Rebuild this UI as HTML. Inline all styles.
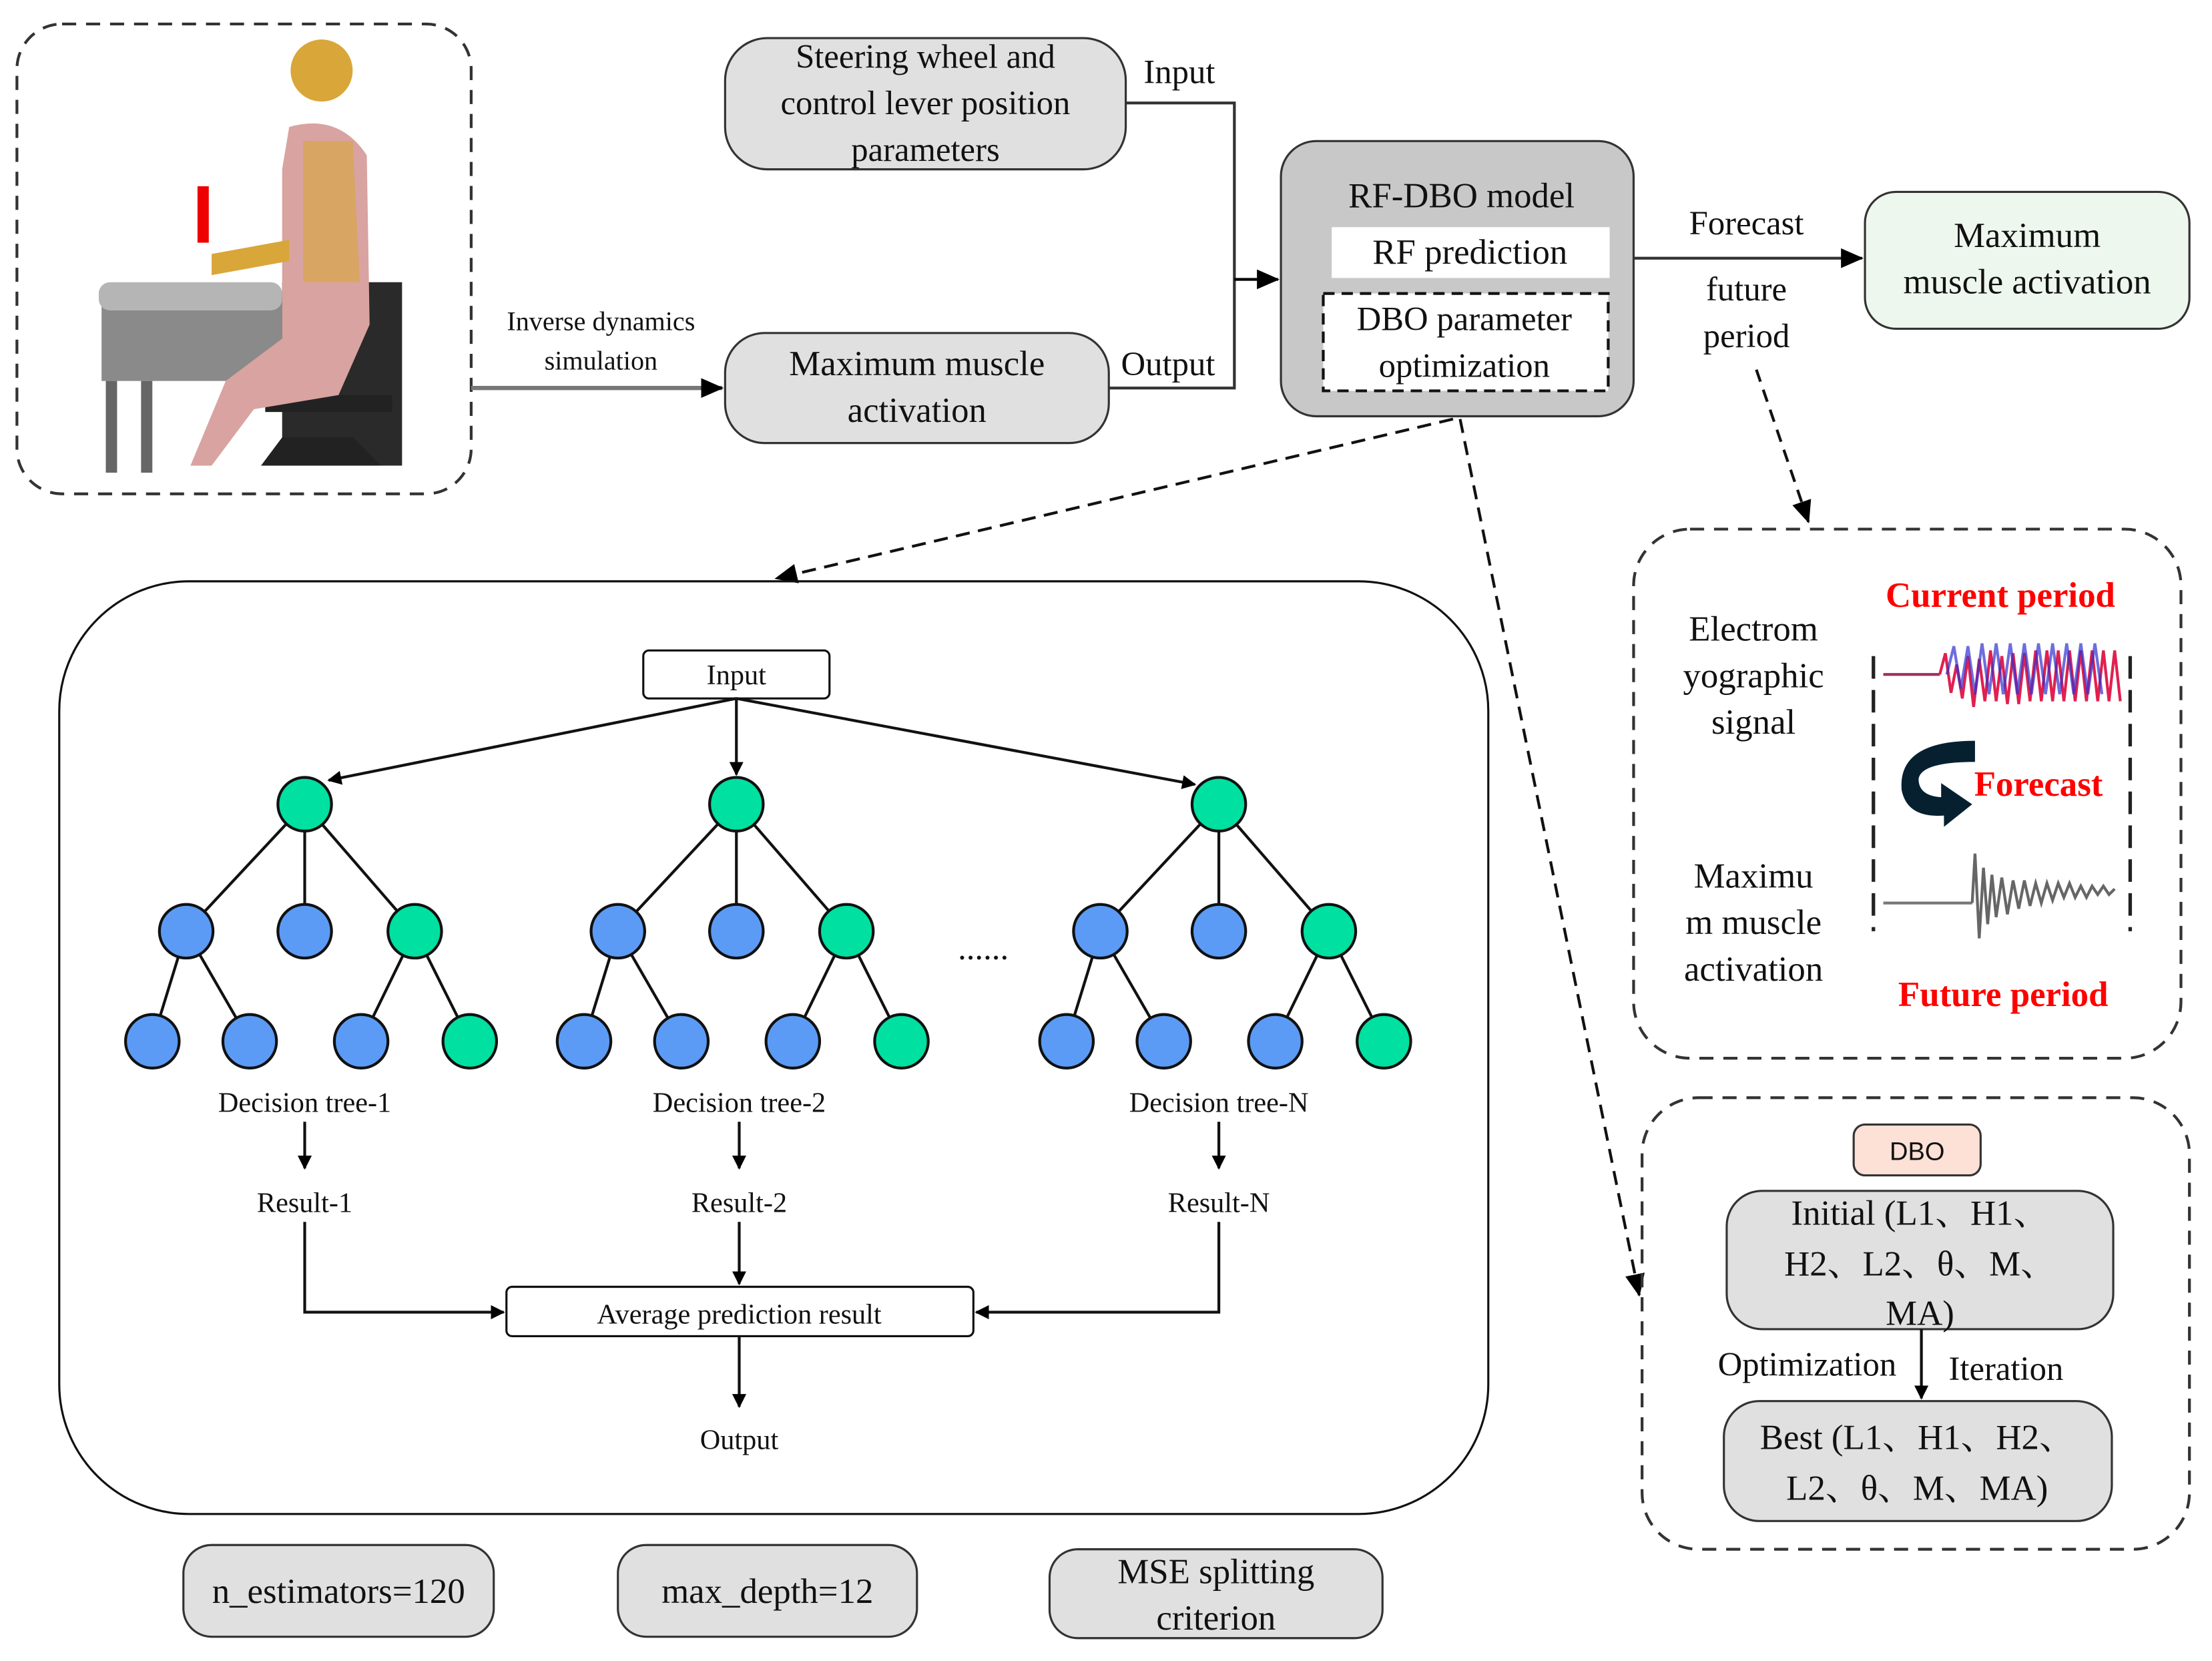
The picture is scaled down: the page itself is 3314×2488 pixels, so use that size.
<!DOCTYPE html>
<html><head><meta charset="utf-8"><style>html,body{margin:0;padding:0;background:#fff}svg{display:block}text{font-family:"Liberation Serif",serif;fill:#111}</style></head>
<body>
<svg width="3314" height="2488" viewBox="0 0 1568 1177.2" preserveAspectRatio="none" xmlns="http://www.w3.org/2000/svg">
<defs>
<marker id="a" markerWidth="10" markerHeight="10" refX="9" refY="5" orient="auto" markerUnits="userSpaceOnUse"><path d="M0,0 L10,5 L0,10 z" fill="#000"/></marker>
<marker id="b" markerWidth="16" markerHeight="14" refX="15" refY="7" orient="auto" markerUnits="userSpaceOnUse"><path d="M0,0 L16,7 L0,14 z" fill="#000"/></marker>
</defs>
<!-- left figure box -->
<rect x="12" y="17" width="322" height="333" rx="32" fill="none" stroke="#333" stroke-width="2" stroke-dasharray="10,7"/>
<g>
<rect x="72" y="210" width="140" height="60" fill="#8a8a8a"/>
<rect x="70" y="200" width="130" height="20" rx="8" fill="#b5b5b5"/>
<rect x="75" y="270" width="8" height="65" fill="#666"/><rect x="100" y="270" width="8" height="65" fill="#666"/>
<rect x="200" y="200" width="85" height="130" fill="#2a2a2a"/>
<rect x="188" y="280" width="90" height="12" fill="#222"/>
<path d="M185,330 L270,330 L250,310 L200,310z" fill="#222"/>
<circle cx="228" cy="50" r="22" fill="#d9a63a"/>
<path d="M205,90 Q240,80 260,110 L262,230 L240,280 L180,290 L150,330 L135,330 L160,270 L200,240 L200,120z" fill="#d8a3a0"/>
<path d="M150,180 L205,170 L205,185 L150,195z" fill="#d9a63a"/>
<rect x="140" y="132" width="8" height="40" fill="#e00"/>
<path d="M215,100 L250,100 L255,200 L215,200z" fill="#d9a63a" opacity="0.6"/>
</g>
<line x1="334" y1="275" x2="512" y2="275" stroke="#777" stroke-width="3" marker-end="url(#b)"/>
<text x="426" y="234" font-size="19" text-anchor="middle">Inverse dynamics</text>
<text x="426" y="262" font-size="19" text-anchor="middle">simulation</text>
<!-- top boxes -->
<rect x="514" y="27" width="284" height="93" rx="30" fill="#e0e0e0" stroke="#333" stroke-width="1.5"/>
<text x="656" y="48" font-size="24" text-anchor="middle">Steering wheel and</text>
<text x="656" y="81" font-size="24" text-anchor="middle">control lever position</text>
<text x="656" y="114" font-size="24" text-anchor="middle">parameters</text>
<rect x="514" y="236" width="272" height="78" rx="28" fill="#e0e0e0" stroke="#333" stroke-width="1.5"/>
<text x="650" y="266" font-size="25" text-anchor="middle">Maximum muscle</text>
<text x="650" y="299" font-size="25" text-anchor="middle">activation</text>
<polyline points="798,73 875,73 875,275 786,275" fill="none" stroke="#333" stroke-width="2"/>
<line x1="875" y1="198" x2="906" y2="198" stroke="#000" stroke-width="2" marker-end="url(#b)"/>
<text x="836" y="59" font-size="24" text-anchor="middle">Input</text>
<text x="828" y="266" font-size="24" text-anchor="middle">Output</text>
<!-- RF-DBO -->
<rect x="908" y="100" width="250" height="195" rx="25" fill="#c8c8c8" stroke="#333" stroke-width="1.5"/>
<text x="1036" y="147" font-size="25" text-anchor="middle">RF-DBO model</text>
<rect x="944" y="161" width="197" height="36" fill="#fff"/>
<text x="1042" y="187" font-size="25" text-anchor="middle">RF prediction</text>
<rect x="938" y="208" width="202" height="69" fill="#fff" stroke="#111" stroke-width="2" stroke-dasharray="8,5"/>
<text x="1038" y="234" font-size="24" text-anchor="middle">DBO parameter</text>
<text x="1038" y="267" font-size="24" text-anchor="middle">optimization</text>
<line x1="1158" y1="183" x2="1320" y2="183" stroke="#333" stroke-width="2" marker-end="url(#b)"/>
<text x="1238" y="166" font-size="24" text-anchor="middle">Forecast</text>
<text x="1238" y="213" font-size="24" text-anchor="middle">future</text>
<text x="1238" y="246" font-size="24" text-anchor="middle">period</text>
<rect x="1322" y="136" width="230" height="97" rx="22" fill="#eef7ee" stroke="#333" stroke-width="1.5"/>
<text x="1437" y="175" font-size="25" text-anchor="middle">Maximum</text>
<text x="1437" y="208" font-size="25" text-anchor="middle">muscle activation</text>
<line x1="1245" y1="262" x2="1282" y2="370" stroke="#111" stroke-width="2" stroke-dasharray="9,6" marker-end="url(#b)"/>
<!-- forecast dashed box -->
<rect x="1158" y="375" width="388" height="375" rx="40" fill="none" stroke="#333" stroke-width="2" stroke-dasharray="10,7"/>
<text x="1243" y="454" font-size="25" text-anchor="middle">Electrom</text>
<text x="1243" y="487" font-size="25" text-anchor="middle">yographic</text>
<text x="1243" y="520" font-size="25" text-anchor="middle">signal</text>
<text x="1243" y="629" font-size="25" text-anchor="middle">Maximu</text>
<text x="1243" y="662" font-size="25" text-anchor="middle">m muscle</text>
<text x="1243" y="695" font-size="25" text-anchor="middle">activation</text>
<text x="1418" y="430" font-size="25" font-weight="bold" text-anchor="middle" style="fill:#f00">Current period</text>
<text x="1445" y="564" font-size="25" font-weight="bold" text-anchor="middle" style="fill:#f00">Forecast</text>
<text x="1420" y="713" font-size="25" font-weight="bold" text-anchor="middle" style="fill:#f00">Future period</text>
<line x1="1328" y1="465" x2="1328" y2="660" stroke="#222" stroke-width="2.5" stroke-dasharray="16,8"/>
<line x1="1510" y1="465" x2="1510" y2="660" stroke="#222" stroke-width="2.5" stroke-dasharray="16,8"/>
<g stroke-width="2">
<line x1="1335" y1="478" x2="1375" y2="478" stroke="#a03060"/>
<path d="M1375,478 l4,-15 l4,28 l4,-20 l4,24 l4,-30 l4,36 l4,-34 l4,30 l4,-36 l4,36 l4,-32 l4,34 l4,-36 l4,36 l4,-36 l4,34 l4,-36 l4,36 l4,-36 l4,36 l4,-36 l4,36 l4,-36 l4,36 l4,-36 l4,36 l4,-36 l4,36 l4,-36 l4,36 l4,-36 l4,36" fill="none" stroke="#e02050"/>
<path d="M1380,478 l5,-20 l5,30 l5,-30 l5,34 l5,-36 l5,36 l5,-36 l5,36 l5,-36 l5,36 l5,-36 l5,36 l5,-36 l5,36 l5,-36 l5,36 l5,-36 l5,36 l5,-36 l5,36 l5,-36 l5,36" fill="none" stroke="#3030d0" opacity="0.7"/>
<line x1="1335" y1="640" x2="1398" y2="640" stroke="#777"/>
<path d="M1398,640 l2,-35 l3,60 l3,-50 l3,40 l3,-35 l3,30 l4,-28 l4,26 l4,-24 l4,20 l4,-20 l4,18 l4,-16 l4,14 l4,-14 l4,12 l4,-12 l4,10 l4,-10 l4,10 l4,-8 l4,8 l4,-8 l4,6 l4,-6 l4,6 l4,-4" fill="none" stroke="#666"/>
</g>
<path d="M1400,525 Q1345,525 1348,560 Q1352,580 1378,578 L1378,586 L1398,570 L1376,555 L1376,565 Q1360,564 1360,552 Q1362,540 1400,540z" fill="#062030"/>
<!-- dashed connectors -->
<line x1="1030" y1="297" x2="550" y2="410" stroke="#111" stroke-width="2" stroke-dasharray="10,6" marker-end="url(#b)"/>
<line x1="1035" y1="297" x2="1162" y2="918" stroke="#111" stroke-width="2" stroke-dasharray="10,6" marker-end="url(#b)"/>
<!-- big RF box -->
<rect x="42" y="412" width="1013" height="661" rx="92" fill="none" stroke="#111" stroke-width="1.5"/>
<rect x="456" y="461" width="132" height="34" rx="4" fill="#fff" stroke="#111" stroke-width="1.5"/>
<text x="522" y="485" font-size="20" text-anchor="middle">Input</text>
<g stroke="#111" stroke-width="2">
<line x1="522" y1="495" x2="233" y2="553" marker-end="url(#a)"/>
<line x1="522" y1="495" x2="522" y2="549" marker-end="url(#a)"/>
<line x1="522" y1="495" x2="847" y2="556" marker-end="url(#a)"/>
</g>
<g id="t1" stroke="#111" stroke-width="2">
<line x1="216" y1="570" x2="132" y2="660"/><line x1="216" y1="570" x2="216" y2="660"/><line x1="216" y1="570" x2="294" y2="660"/>
<line x1="132" y1="660" x2="108" y2="738"/><line x1="132" y1="660" x2="177" y2="738"/>
<line x1="294" y1="660" x2="256" y2="738"/><line x1="294" y1="660" x2="333" y2="738"/>
<circle cx="216" cy="570" r="19" fill="#00e0a0"/>
<circle cx="132" cy="660" r="19" fill="#5b9bf5"/><circle cx="216" cy="660" r="19" fill="#5b9bf5"/><circle cx="294" cy="660" r="19" fill="#00e0a0"/>
<circle cx="108" cy="738" r="19" fill="#5b9bf5"/><circle cx="177" cy="738" r="19" fill="#5b9bf5"/><circle cx="256" cy="738" r="19" fill="#5b9bf5"/><circle cx="333" cy="738" r="19" fill="#00e0a0"/>
</g>
<use href="#t1" x="306"/>
<use href="#t1" x="648"/>
<text x="697" y="680" font-size="24" text-anchor="middle">......</text>
<g font-size="20" text-anchor="middle">
<text x="216" y="788">Decision tree-1</text><text x="524" y="788">Decision tree-2</text><text x="864" y="788">Decision tree-N</text>
<text x="216" y="859">Result-1</text><text x="524" y="859">Result-2</text><text x="864" y="859">Result-N</text>
</g>
<g stroke="#111" stroke-width="2">
<line x1="216" y1="795" x2="216" y2="828" marker-end="url(#a)"/>
<line x1="524" y1="795" x2="524" y2="828" marker-end="url(#a)"/>
<line x1="864" y1="795" x2="864" y2="828" marker-end="url(#a)"/>
<polyline points="216,866 216,930 357,930" fill="none" marker-end="url(#a)"/>
<polyline points="864,866 864,930 692,930" fill="none" marker-end="url(#a)"/>
<line x1="524" y1="866" x2="524" y2="910" marker-end="url(#a)"/>
<line x1="524" y1="947" x2="524" y2="997" marker-end="url(#a)"/>
</g>
<rect x="359" y="912" width="331" height="35" rx="4" fill="#fff" stroke="#111" stroke-width="1.5"/>
<text x="524" y="938" font-size="20" text-anchor="middle">Average prediction result</text>
<text x="524" y="1027" font-size="20" text-anchor="middle">Output</text>
<!-- bottom pills -->
<rect x="130" y="1095" width="220" height="65" rx="20" fill="#e0e0e0" stroke="#333" stroke-width="1.5"/>
<text x="240" y="1136" font-size="25" text-anchor="middle">n_estimators=120</text>
<rect x="438" y="1095" width="212" height="65" rx="20" fill="#e0e0e0" stroke="#333" stroke-width="1.5"/>
<text x="544" y="1136" font-size="25" text-anchor="middle">max_depth=12</text>
<rect x="744" y="1098" width="236" height="63" rx="20" fill="#e0e0e0" stroke="#333" stroke-width="1.5"/>
<text x="862" y="1122" font-size="25" text-anchor="middle">MSE splitting</text>
<text x="862" y="1155" font-size="25" text-anchor="middle">criterion</text>
<!-- DBO box -->
<rect x="1164" y="778" width="388" height="320" rx="40" fill="none" stroke="#333" stroke-width="2" stroke-dasharray="10,7"/>
<rect x="1314" y="797" width="90" height="36" rx="8" fill="#fde0d6" stroke="#333" stroke-width="1.5"/>
<text x="1359" y="822" font-size="18" text-anchor="middle" style="font-family:'Liberation Sans',sans-serif">DBO</text>
<rect x="1224" y="844" width="274" height="98" rx="25" fill="#e0e0e0" stroke="#333" stroke-width="1.5"/>
<text x="1361" y="868" font-size="25" text-anchor="middle" style="font-family:'Liberation Serif','Noto Serif CJK SC',serif">Initial (L1、H1、</text>
<text x="1361" y="904" font-size="25" text-anchor="middle" style="font-family:'Liberation Serif','Noto Serif CJK SC',serif">H2、L2、θ、M、</text>
<text x="1361" y="939" font-size="25" text-anchor="middle">MA)</text>
<line x1="1362" y1="942" x2="1362" y2="991" stroke="#111" stroke-width="2" marker-end="url(#a)"/>
<text x="1281" y="975" font-size="24" text-anchor="middle">Optimization</text>
<text x="1422" y="978" font-size="24" text-anchor="middle">Iteration</text>
<rect x="1222" y="993" width="275" height="85" rx="25" fill="#e0e0e0" stroke="#333" stroke-width="1.5"/>
<text x="1359" y="1027" font-size="25" text-anchor="middle" style="font-family:'Liberation Serif','Noto Serif CJK SC',serif">Best (L1、H1、H2、</text>
<text x="1359" y="1063" font-size="25" text-anchor="middle" style="font-family:'Liberation Serif','Noto Serif CJK SC',serif">L2、θ、M、MA)</text>
</svg>
</body></html>
